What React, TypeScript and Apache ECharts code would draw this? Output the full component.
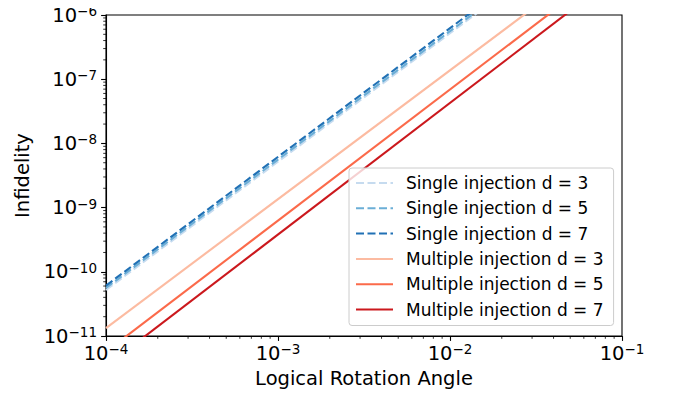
import React, { useEffect, useRef } from "react";
import * as echarts from "echarts";

// x positions (logical rotation angle) for each line's endpoints
const angles = [1e-4, 1e-1];

// infidelity values at angles above
const single3 = [5.2e-11, 5.2e-5];
const single5 = [5.6e-11, 5.6e-5];
const single7 = [6.1e-11, 6.3e-5];
const multi3 = [1.33e-11, 1.4e-5];
const multi5 = [5.7e-12, 7.6e-6];
const multi7 = [3.4e-12, 4.8e-6];

const seriesNames = [
  "Single injection d = 3",
  "Single injection d = 5",
  "Single injection d = 7",
  "Multiple injection d = 3",
  "Multiple injection d = 5",
  "Multiple injection d = 7",
];
const seriesValues = [single3, single5, single7, multi3, multi5, multi7];
const seriesColors = ["#c6dbef", "#6baed6", "#2171b5", "#fcbba1", "#fb6a4a", "#cb181d"];
const seriesDashed = [true, true, true, false, false, false];

const xMin = 1e-4;
const xMax = 1e-1;
const yMin = 1e-11;
const yMax = 1e-6;

const FONT = "DejaVu Sans";

function minorValues(lo: number, hi: number): number[] {
  const out: number[] = [];
  for (let e = Math.round(Math.log10(lo)); e < Math.round(Math.log10(hi)); e++) {
    for (let m = 2; m <= 9; m++) out.push(m * Math.pow(10, e));
  }
  return out;
}

function powLabel(v: number): string {
  const e = Math.round(Math.log10(v));
  return `{a|10}{b|${e < 0 ? "\u2212" : ""}${Math.abs(e)}}`;
}

const rich = {
  a: { fontFamily: FONT, fontSize: 19.5, lineHeight: 20, color: "#000" },
  b: { fontFamily: FONT, fontSize: 13.5, lineHeight: 14, color: "#000", padding: [0, 0, 8, 0] },
};

export default function App() {
  const ref = useRef<HTMLDivElement>(null);
  useEffect(() => {
    if (!ref.current) return;
    const chart = echarts.init(ref.current, undefined, { renderer: "svg" });

    const lineSeries = seriesNames.map((name, i) => ({
      name,
      type: "line",
      data: angles.map((x, j) => [x, seriesValues[i][j]]),
      symbol: "none",
      clip: true,
      lineStyle: {
        color: seriesColors[i],
        width: 2.1,
        type: seriesDashed[i] ? [8, 3.5] : "solid",
      },
      itemStyle: { color: seriesColors[i] },
      z: 2,
    }));

    const minorData: number[][] = [
      ...minorValues(xMin, xMax).map((v) => [v, yMin, 0]),
      ...minorValues(yMin, yMax).map((v) => [xMin, v, 1]),
    ];

    const minorSeries = {
      name: "minorTicks",
      type: "custom",
      silent: true,
      clip: false,
      z: 5,
      data: minorData,
      renderItem: (_p: any, api: any) => {
        const p = api.coord([api.value(0), api.value(1)]);
        const isX = api.value(2) === 0;
        return {
          type: "line",
          shape: isX
            ? { x1: p[0], y1: p[1], x2: p[0], y2: p[1] + 2.8 }
            : { x1: p[0] - 2.8, y1: p[1], x2: p[0], y2: p[1] },
          style: { stroke: "#000", lineWidth: 0.8 },
        };
      },
    };

    chart.setOption({
      animation: false,
      backgroundColor: "#fff",
      textStyle: { fontFamily: FONT },
      grid: {
        left: 106,
        right: 56,
        top: 15,
        bottom: 63,
        show: true,
        borderColor: "#000",
        borderWidth: 1.1,
        backgroundColor: "transparent",
      },
      legend: {
        data: seriesNames,
        orient: "vertical",
        left: 349,
        top: 168,
        padding: [5, 10, 6, 6],
        itemGap: 5.3,
        itemWidth: 37,
        itemHeight: 14,
        itemStyle: { opacity: 0 },
        backgroundColor: "rgba(255,255,255,0.8)",
        borderColor: "#cccccc",
        borderWidth: 1,
        borderRadius: 3,
        textStyle: {
          fontFamily: FONT,
          fontSize: 17,
          lineHeight: 20,
          color: "#000",
          padding: [0, 0, 0, 8],
        },
      },
      xAxis: {
        type: "log",
        logBase: 10,
        min: xMin,
        max: xMax,
        interval: 1,
        name: "Logical Rotation Angle",
        nameLocation: "middle",
        nameGap: 31,
        nameTextStyle: { fontFamily: FONT, fontSize: 19.5, color: "#000" },
        axisLine: { show: true, lineStyle: { color: "#000", width: 1.1 } },
        axisTick: { show: true, length: 4.9, lineStyle: { color: "#000", width: 1.1 } },
        axisLabel: { formatter: powLabel, rich, margin: 7 },
        splitLine: { show: false },
        minorTick: { show: false },
      },
      yAxis: {
        type: "log",
        logBase: 10,
        min: yMin,
        max: yMax,
        interval: 1,
        name: "Infidelity",
        nameLocation: "middle",
        nameGap: 70,
        nameRotate: 90,
        nameTextStyle: { fontFamily: FONT, fontSize: 19.5, color: "#000" },
        axisLine: { show: true, lineStyle: { color: "#000", width: 1.1 } },
        axisTick: { show: true, length: 4.9, lineStyle: { color: "#000", width: 1.1 } },
        axisLabel: { formatter: powLabel, rich, margin: 9 },
        splitLine: { show: false },
        minorTick: { show: false },
      },
      series: [...lineSeries, minorSeries],
    });
    return () => chart.dispose();
  }, []);
  return <div ref={ref} style={{ width: 678, height: 399, margin: -8 }} />;
}
